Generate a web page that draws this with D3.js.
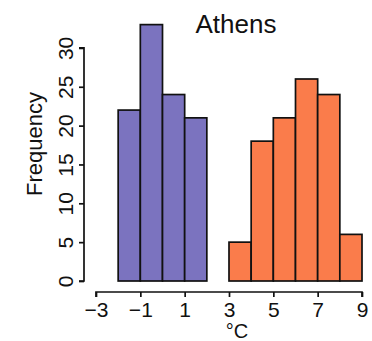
<!DOCTYPE html>
<html>
<head>
<meta charset="utf-8">
<script src="https://cdn.jsdelivr.net/npm/d3@7"></script>
<style>
  html, body { margin: 0; padding: 0; background: #fff; }
  svg text { font-family: "Liberation Sans", Arial, sans-serif; fill: #111; }
</style>
</head>
<body>
<svg id="chart" width="372" height="341"></svg>
<script>
// Histogram bins (°C) and counts
const winterBins = [[-2, -1], [-1, 0], [0, 1], [1, 2]];
const winterCounts = [22, 33, 24, 21];
const summerBins = [[3, 4], [4, 5], [5, 6], [6, 7], [7, 8], [8, 9]];
const summerCounts = [5, 18, 21, 26, 24, 6];
const xTicks = [-3, -1, 1, 3, 5, 7, 9];
const yTicks = [0, 5, 10, 15, 20, 25, 30];
const title = "Athens";

const FONT = "Liberation Sans, Arial, sans-serif";
const svg = d3.select("#chart");
const x = d3.scaleLinear().domain([-3, 9]).range([96, 362]);
const y = d3.scaleLinear().domain([0, 26]).range([281, 79]);

function drawBars(bins, counts, color) {
  svg.append("g").selectAll("rect")
    .data(bins.map((b, i) => ({ b, c: counts[i] })))
    .join("rect")
    .attr("x", d => x(d.b[0]))
    .attr("width", d => x(d.b[1]) - x(d.b[0]))
    .attr("y", d => y(d.c))
    .attr("height", d => y(0) - y(d.c))
    .attr("fill", color)
    .attr("stroke", "#111")
    .attr("stroke-width", 1.7);
}
drawBars(winterBins, winterCounts, "#7b73bf");
drawBars(summerBins, summerCounts, "#fa7c4b");

// x axis, detached below the bars
const xAxis = svg.append("g").attr("transform", "translate(0,292)")
  .call(d3.axisBottom(x).tickValues(xTicks).tickSize(5).tickPadding(5)
    .tickFormat(d => d < 0 ? "\u2212" + Math.abs(d) : d));
xAxis.select(".domain").attr("stroke", "#111").attr("stroke-width", 1.7)
  .attr("d", `M${x(-3)},5V0H${x(9)}V5`);
xAxis.selectAll(".tick line").attr("stroke", "#111").attr("stroke-width", 1.7);
xAxis.selectAll("text").attr("font-size", 21).style("font-family", FONT).attr("fill", "#111");

// y axis with labels parallel to the axis
const yAxis = svg.append("g").attr("transform", "translate(84,0)")
  .call(d3.axisLeft(y).tickValues(yTicks).tickSize(5).tickFormat(d => d));
yAxis.select(".domain").attr("stroke", "#111").attr("stroke-width", 1.7)
  .attr("d", `M-5,${y(0)}H0V${y(30)}H-5`);
yAxis.selectAll(".tick line").attr("stroke", "#111").attr("stroke-width", 1.7);
yAxis.selectAll(".tick text")
  .attr("x", null).attr("dy", null)
  .attr("text-anchor", "middle")
  .attr("transform", "translate(-11,0) rotate(-90)")
  .attr("font-size", 21).style("font-family", FONT).attr("fill", "#111");

svg.append("text")
  .attr("transform", "translate(42,144) rotate(-90)")
  .attr("text-anchor", "middle")
  .attr("font-size", 22)
  .text("Frequency");

svg.append("text")
  .attr("x", 237).attr("y", 338)
  .attr("text-anchor", "middle")
  .attr("font-size", 20)
  .text("°C");

svg.append("text")
  .attr("x", 236).attr("y", 33)
  .attr("text-anchor", "middle")
  .attr("font-size", 26)
  .text(title);
</script>
</body>
</html>
